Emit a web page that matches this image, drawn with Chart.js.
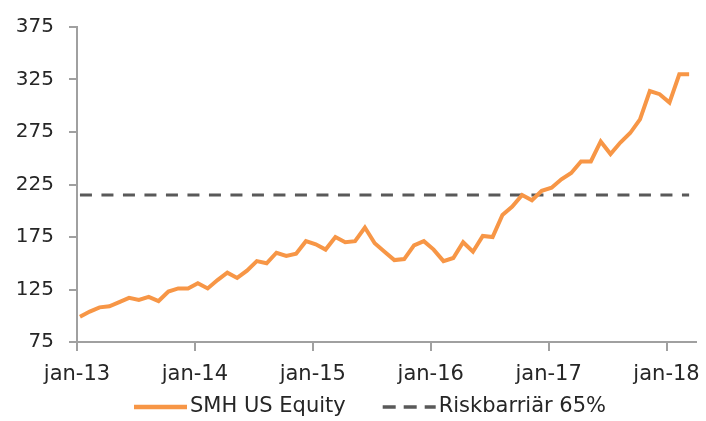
<!DOCTYPE html>
<html>
<head>
<meta charset="utf-8">
<script src="https://cdn.jsdelivr.net/npm/chart.js@4.4.0/dist/chart.umd.min.js"></script>
<style>
  html, body { margin: 0; padding: 0; background: #fff; }
  #wrap { width: 706px; height: 421px; position: relative; }
</style>
</head>
<body>
<div id="wrap"><canvas id="chart"></canvas></div>
<script>
// Monthly closes, jan-13 .. mar-18
const smhValues = [
    99, 104, 108, 109, 113, 117, 115, 118, 114, 123, 126, 126,
    131, 126, 134, 141, 136, 143, 152, 150, 160, 157, 159, 171,
    168, 163, 175, 170, 171, 184, 169, 161, 153, 154, 167, 171,
    163, 152, 155, 170, 161, 176, 175, 196, 204, 215, 210, 219,
    222, 230, 236, 247, 247, 266, 254, 265, 274, 287, 314, 311,
    303, 330, 330
];
const barrierLevel = 215;
const yearLabels = ['jan-13', 'jan-14', 'jan-15', 'jan-16', 'jan-17', 'jan-18'];
const yTicks = [75, 125, 175, 225, 275, 325, 375];

// points sit a few days into each month, ticks sit on 1 Jan
const smhPoints = smhValues.map((v, i) => ({ x: i + 0.3, y: v }));
const barrierPoints = smhValues.map((v, i) => ({ x: i + 0.3, y: barrierLevel }));

const axisColor = '#a0a0a0';
const textColor = '#262626';
const fontFamily = 'DejaVu Sans';

// Excel-style legend: short line sample, text right next to it
const bottomLegend = {
    id: 'bottomLegend',
    afterDraw(chart, args, opts) {
        const ctx = chart.ctx;
        ctx.save();
        ctx.font = `${opts.fontSize}px "${fontFamily}"`;
        ctx.textBaseline = 'middle';
        ctx.textAlign = 'left';
        let x = opts.startX;
        const y = opts.y;
        chart.data.datasets.forEach(ds => {
            ctx.beginPath();
            ctx.setLineDash(ds.legendDash || []);
            ctx.strokeStyle = ds.borderColor;
            ctx.lineWidth = ds.borderWidth + 0.5;
            ctx.moveTo(x, y);
            ctx.lineTo(x + opts.sampleWidth, y);
            ctx.stroke();
            x += opts.sampleWidth + opts.textGap;
            ctx.fillStyle = textColor;
            ctx.fillText(ds.label, x, y);
            x += ctx.measureText(ds.label).width + opts.itemGap;
        });
        ctx.restore();
    }
};

new Chart(document.getElementById('chart'), {
    type: 'line',
    data: {
        datasets: [
            {
                label: 'SMH US Equity',
                data: smhPoints,
                borderColor: '#f79646',
                backgroundColor: '#f79646',
                borderWidth: 4,
                pointRadius: 0,
                tension: 0
            },
            {
                label: 'Riskbarriär 65%',
                data: barrierPoints,
                borderColor: '#595959',
                backgroundColor: '#595959',
                borderWidth: 3,
                borderDash: [12, 9.5],
                legendDash: [13, 8],
                pointRadius: 0
            }
        ]
    },
    plugins: [bottomLegend],
    options: {
        responsive: true,
        maintainAspectRatio: false,
        animation: false,
        layout: { padding: { top: 25, right: 10, left: 0, bottom: 29 } },
        plugins: {
            tooltip: { enabled: false },
            legend: { display: false },
            bottomLegend: {
                startX: 134,
                y: 407,
                sampleWidth: 53,
                textGap: 3,
                itemGap: 37,
                fontSize: 21
            }
        },
        scales: {
            x: {
                type: 'linear',
                min: 0,
                max: 63,
                afterBuildTicks: (scale) => {
                    scale.ticks = yearLabels.map((l, i) => ({ value: i * 12 }));
                },
                afterFit: (scale) => {
                    scale.height = 50;
                    scale.paddingLeft = 0;
                    scale.paddingRight = 0;
                },
                ticks: {
                    color: textColor,
                    font: { family: fontFamily, size: 21 },
                    padding: 11,
                    maxRotation: 0,
                    autoSkip: false,
                    callback: (v) => yearLabels[Math.round(v / 12)]
                },
                grid: {
                    drawOnChartArea: false,
                    color: axisColor,
                    tickLength: 9,
                    lineWidth: 2
                },
                border: { color: axisColor, width: 2 }
            },
            y: {
                min: 75,
                max: 375,
                afterBuildTicks: (scale) => {
                    scale.ticks = yTicks.map(v => ({ value: v }));
                },
                afterFit: (scale) => { scale.width = 77; },
                ticks: {
                    color: textColor,
                    font: { family: fontFamily, size: 20 },
                    padding: 15
                },
                grid: {
                    drawOnChartArea: false,
                    color: axisColor,
                    tickLength: 8,
                    lineWidth: 2
                },
                border: { color: axisColor, width: 2 }
            }
        }
    }
});
</script>
</body>
</html>
